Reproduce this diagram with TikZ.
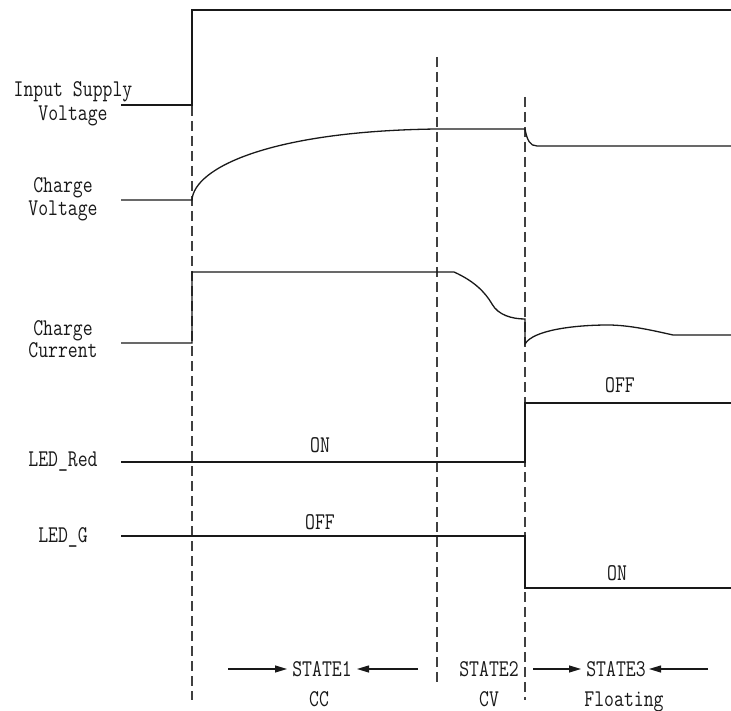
\documentclass[tikz,border=0pt]{standalone}
\usepackage{graphicx}
\usetikzlibrary{arrows.meta}
\newcommand{\nt}[1]{\scalebox{0.8}[1]{#1}}
\tikzset{
  wave/.style={line width=1.3pt, black!90},
  guide/.style={line width=1.2pt, black!75, dash pattern=on 10pt off 5pt},
  lbl/.style={font=\fontsize{24}{26}\ttfamily, text=black!90, inner sep=0pt, anchor=base},
  arr/.style={line width=1.1pt, black!90, -{Triangle[length=12pt,width=7pt]}}
}
\begin{document}
\begin{tikzpicture}[x=1pt,y=-1pt]
\useasboundingbox (0,0) rectangle (731,711);
% guide lines
\draw[guide] (192,106) -- (192,700);
\draw[guide] (437,57) -- (437,684);
\draw[guide] (525,97) -- (525,700);
% Input supply voltage
\draw[wave] (121,105) -- (192,105) -- (192,10) -- (731,10);
% Charge voltage
\draw[wave] (121,200) -- (192,200) .. controls (194,168) and (270,131) .. (437,129) -- (525,129)
  .. controls (527,140) and (530,146) .. (537,146) -- (731,146);
% Charge current
\draw[wave] (121,343) -- (192,343) -- (192,272) -- (454,272)
  .. controls (474,281) and (485,292) .. (492,304)
  .. controls (498,315) and (512,319) .. (525,319) -- (525,344)
  .. controls (533,330) and (575,325) .. (608,325)
  .. controls (630,325) and (655,331) .. (673,335) -- (731,335);
% LED red
\draw[wave] (121,462) -- (525,462) -- (525,403) -- (731,403);
% LED G
\draw[wave] (121,536) -- (525,536) -- (525,588) -- (731,588);
% labels
\node[lbl] (l1) at (73,97) {\nt{Input Supply}};
\node[lbl] (l2) at (73,121) {\nt{Voltage}};
\node[lbl] (l3) at (63,193) {\nt{Charge}};
\node[lbl] (l4) at (63,216) {\nt{Voltage}};
\node[lbl] (l5) at (63,335) {\nt{Charge}};
\node[lbl] (l6) at (63,358) {\nt{Current}};
\node[lbl] (l7) at (63,466) {\nt{LED\_Red}};
\node[lbl] (l8) at (63,542) {\nt{LED\_G}};
\node[lbl] (on1) at (320,452) {\nt{ON}};
\node[lbl] (off1) at (620,392) {\nt{OFF}};
\node[lbl] (off2) at (320,529) {\nt{OFF}};
\node[lbl] (on2) at (617,580) {\nt{ON}};
% states
\node[lbl] (s1) at (322,676) {\nt{STATE1}};
\node[lbl] (s2) at (489,676) {\nt{STATE2}};
\node[lbl] (s3) at (616,676) {\nt{STATE3}};
\node[lbl] (cc) at (319,706) {\nt{CC}};
\node[lbl] (cv) at (489,706) {\nt{CV}};
\node[lbl] (fl) at (624,706) {\nt{Floating}};
\coordinate (a1) at (228,669);
\coordinate (t1) at (287,669);
\coordinate (a2) at (418,669);
\coordinate (t2) at (357,669);
\coordinate (a3) at (533,669);
\coordinate (t3) at (581,669);
\coordinate (a4) at (708,669);
\coordinate (t4) at (649,669);
\draw[arr] (a1) -- (t1);
\draw[arr] (a2) -- (t2);
\draw[arr] (a3) -- (t3);
\draw[arr] (a4) -- (t4);
\end{tikzpicture}
\end{document}
